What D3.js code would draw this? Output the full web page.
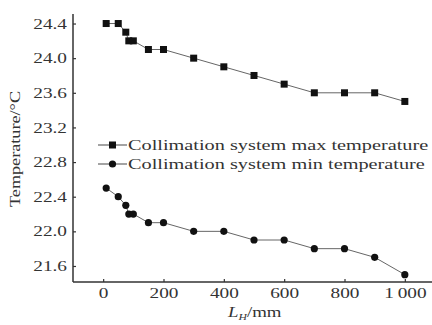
<!DOCTYPE html>
<html>
<head>
<meta charset="utf-8">
<script src="https://cdn.jsdelivr.net/npm/d3@7/dist/d3.min.js"></script>
<style>
  body { margin: 0; background: #fff; }
  svg { display: block; }
  text { font-family: "Liberation Serif", "DejaVu Serif", serif; }
</style>
</head>
<body>
<svg id="chart" width="432" height="325"></svg>
<script>
// data
let lengths = [10, 50, 75, 85, 100, 150, 200, 300, 400, 500, 600, 700, 800, 900, 1000];
let maxTemp = [24.4, 24.4, 24.3, 24.2, 24.2, 24.1, 24.1, 24.0, 23.9, 23.8, 23.7, 23.6, 23.6, 23.6, 23.5];
let minTemp = [22.5, 22.4, 22.3, 22.2, 22.2, 22.1, 22.1, 22.0, 22.0, 21.9, 21.9, 21.8, 21.8, 21.7, 21.5];
let xTicks = [0, 200, 400, 600, 800, 1000];
let yTicks = [21.6, 22.0, 22.4, 22.8, 23.2, 23.6, 24.0, 24.4];
let seriesNames = ["Collimation system max temperature", "Collimation system min temperature"];

let svg = d3.select('#chart');

let x = d3.scaleLinear()
  .domain([-100, 1100])
  .range([73, 435]);

let y = d3.scaleLinear()
  .domain([21.415, 24.51])
  .range([282, 14]);

let ink = '#333';
let sx = 1.33; // the original type is stretched wide

// y axis
let yAxis = svg.append('g')
  .attr('transform', 'translate(73,0)')
  .call(d3.axisRight(y).tickValues(yTicks).tickSize(3).tickFormat(d3.format('.1f')));
yAxis.select('.domain').attr('stroke', ink).attr('stroke-width', 1.5).attr('d', 'M0,' + y.range()[1] + 'V' + y.range()[0]);
yAxis.selectAll('.tick line').attr('stroke', ink).attr('stroke-width', 1.2);
yAxis.selectAll('.tick text')
  .attr('x', -6 / sx)
  .attr('transform', 'scale(' + sx + ',1)')
  .attr('text-anchor', 'end')
  .attr('font-size', 14.5)
  .attr('fill', ink)
  .style('font-family', '"Liberation Serif", serif');

// x axis
let xAxis = svg.append('g')
  .attr('transform', 'translate(0,282)')
  .call(d3.axisTop(x).tickValues(xTicks).tickSize(3).tickFormat(d => d === 1000 ? '1\u2009000' : d));
xAxis.select('.domain').attr('stroke', ink).attr('stroke-width', 1.5).attr('d', 'M' + x.range()[0] + ',0H' + x.range()[1]);
xAxis.selectAll('.tick line').attr('stroke', ink).attr('stroke-width', 1.2);
xAxis.selectAll('.tick text')
  .attr('y', 16)
  .attr('transform', 'scale(' + sx + ',1)')
  .attr('font-size', 14.5)
  .attr('fill', ink)
  .style('font-family', '"Liberation Serif", serif');

// axis titles
svg.append('text')
  .attr('transform', 'translate(20,149) rotate(-90) scale(1.3,1)')
  .attr('text-anchor', 'middle')
  .attr('font-size', 14)
  .attr('fill', ink)
  .text('Temperature/°C');

let xt = svg.append('text')
  .attr('transform', 'translate(228,317) scale(1.3,1)')
  .attr('font-size', 14.5)
  .attr('fill', ink);
xt.append('tspan').attr('font-style', 'italic').text('L');
xt.append('tspan').attr('font-style', 'italic').attr('font-size', 9).attr('dy', 3).text('H');
xt.append('tspan').attr('dy', -3).text('/mm');

// lines and markers
let line = d3.line()
  .x((d, i) => x(lengths[i]))
  .y(d => y(d));

[maxTemp, minTemp].forEach(function(vals, k) {
  svg.append('path')
    .attr('d', line(vals))
    .attr('fill', 'none')
    .attr('stroke', '#666')
    .attr('stroke-width', 1);

  let g = svg.append('g');
  vals.forEach(function(v, i) {
    if (k === 0) {
      g.append('rect')
        .attr('x', x(lengths[i]) - 3.5)
        .attr('y', y(v) - 3.5)
        .attr('width', 7).attr('height', 7)
        .attr('fill', '#111');
    } else {
      g.append('circle')
        .attr('cx', x(lengths[i]))
        .attr('cy', y(v))
        .attr('r', 3.6)
        .attr('fill', '#111');
    }
  });
});

// legend
let legend = svg.append('g');
seriesNames.forEach(function(name, k) {
  let ly = 145 + k * 19;
  legend.append('line')
    .attr('x1', 98).attr('x2', 127)
    .attr('y1', ly).attr('y2', ly)
    .attr('stroke', '#666').attr('stroke-width', 1.2);
  if (k === 0) {
    legend.append('rect')
      .attr('x', 109).attr('y', ly - 3.5)
      .attr('width', 7).attr('height', 7)
      .attr('fill', '#111');
  } else {
    legend.append('circle')
      .attr('cx', 112.5).attr('cy', ly).attr('r', 3.6)
      .attr('fill', '#111');
  }
  legend.append('text')
    .attr('transform', 'translate(128,' + (ly + 4.5) + ') scale(1.4,1)')
    .attr('font-size', 14.5)
    .attr('fill', ink)
    .text(name);
});
</script>
</body>
</html>
